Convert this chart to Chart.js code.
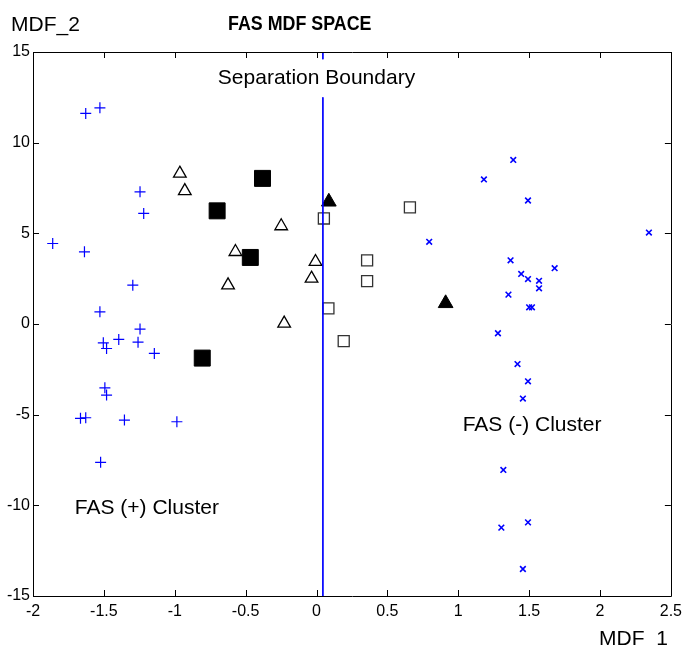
<!DOCTYPE html>
<html>
<head>
<meta charset="utf-8">
<script src="https://cdn.jsdelivr.net/npm/chart.js@4.4.0/dist/chart.umd.min.js"></script>
<style>html,body{margin:0;padding:0;background:#fff}</style>
</head>
<body>
<canvas id="chart" width="688" height="649"></canvas>
<script>
// axis ticks
const xTicks = [-2, -1.5, -1, -0.5, 0, 0.5, 1, 1.5, 2, 2.5];
const yTicks = [-15, -10, -5, 0, 5, 10, 15];

// FAS (+) group, blue plus
const plusX = [-1.628, -1.528, -1.245, -1.219, -1.861, -1.637, -1.296, -1.528, -1.245, -1.395, -1.259,
               -1.504, -1.481, -1.144, -1.493, -1.481, -1.665, -1.628, -1.355, -0.985, -1.523];
const plusY = [11.61, 11.92, 7.29, 6.10, 4.44, 3.98, 2.14, 0.67, -0.28, -0.85, -1.00,
               -1.04, -1.35, -1.62, -3.52, -3.92, -5.20, -5.17, -5.30, -5.39, -7.63];

// FAS (-) group, blue x
const crossX = [1.388, 1.181, 1.492, 2.345, 1.369, 1.680, 1.444, 1.492, 1.570, 1.570, 1.354,
                1.500, 1.520, 1.280, 0.795, 1.418, 1.492, 1.456, 1.318, 1.304, 1.492, 1.456];
const crossY = [9.05, 7.97, 6.81, 5.04, 3.51, 3.08, 2.76, 2.48, 2.38, 1.97, 1.62,
                0.92, 0.92, -0.51, 4.53, -2.21, -3.16, -4.11, -8.05, -11.23, -10.94, -13.51];

// open triangles
const triOpenX = [-0.964, -0.929, -0.249, -0.572, -0.624, -0.007, -0.035, -0.228];
const triOpenY = [8.30, 7.34, 5.40, 3.98, 2.14, 3.43, 2.51, 0.03];

// filled triangles
const triFillX = [0.087, 0.911];
const triFillY = [6.74, 1.14];

// filled squares
const sqFillX = [-0.381, -0.701, -0.467, -0.806];
const sqFillY = [8.03, 6.24, 3.67, -1.88];

// open squares
const sqOpenX = [0.052, 0.659, 0.357, 0.357, 0.084, 0.192];
const sqOpenY = [5.82, 6.43, 3.51, 2.36, 0.86, -0.94];

// separation boundary
const boundaryX = 0.045;
const boundaryTop = [15, 14.6];
const boundaryBottom = [12.5, -15];

const pts = (xs, ys) => xs.map((x, i) => ({x: x, y: ys[i]}));
const FONT = "'Liberation Sans', Arial, Helvetica, sans-serif";

const boxAndText = {
  id: 'boxAndText',
  afterDraw(chart) {
    const {ctx, chartArea: a, scales: {x, y}} = chart;
    ctx.save();
    ctx.strokeStyle = '#000';
    ctx.lineWidth = 1;
    ctx.beginPath();
    ctx.rect(Math.round(a.left) + 0.5, Math.round(a.top) + 0.5, Math.round(a.right - a.left), Math.round(a.bottom - a.top));
    ctx.stroke();

    // inward ticks on all four sides
    const tl = 6;
    ctx.beginPath();
    xTicks.forEach(v => {
      const px = Math.round(x.getPixelForValue(v)) + 0.5;
      ctx.moveTo(px, a.bottom); ctx.lineTo(px, a.bottom - tl);
      ctx.moveTo(px, a.top); ctx.lineTo(px, a.top + tl);
    });
    yTicks.forEach(v => {
      const py = Math.round(y.getPixelForValue(v)) + 0.5;
      ctx.moveTo(a.left, py); ctx.lineTo(a.left + tl, py);
      ctx.moveTo(a.right, py); ctx.lineTo(a.right - tl, py);
    });
    ctx.stroke();

    ctx.fillStyle = '#000';
    ctx.textBaseline = 'alphabetic';
    ctx.textAlign = 'left';

    // title is a narrow bold face
    ctx.save();
    ctx.translate(228, 30);
    ctx.scale(0.85, 1);
    ctx.font = 'bold 21px ' + FONT;
    ctx.fillText('FAS MDF SPACE', 0, 0);
    ctx.restore();

    ctx.font = '21px ' + FONT;
    ctx.fillText('MDF_2', 11, 30.5);
    ctx.fillText('MDF  1', 599, 645);

    ctx.textAlign = 'center';
    ctx.fillText('Separation Boundary', x.getPixelForValue(0), y.getPixelForValue(13.25));
    ctx.textAlign = 'left';
    ctx.fillText('FAS (-) Cluster', x.getPixelForValue(1.031), y.getPixelForValue(-5.89));
    ctx.fillText('FAS (+) Cluster', x.getPixelForValue(-1.705), y.getPixelForValue(-10.48));
    ctx.restore();
  }
};

const tickFont = {family: FONT, size: 16};

new Chart(document.getElementById('chart'), {
  type: 'scatter',
  data: {
    datasets: [
      {data: pts([boundaryX, boundaryX], boundaryTop), showLine: true, borderColor: '#0000ff', borderWidth: 1, pointRadius: 0, order: 0},
      {data: pts([boundaryX, boundaryX], boundaryBottom), showLine: true, borderColor: '#0000ff', borderWidth: 1, pointRadius: 0, order: 0},
      {data: pts(plusX, plusY), pointStyle: 'cross', pointRadius: 5.5, borderColor: '#0000ff', borderWidth: 1.2, order: 1},
      {data: pts(crossX, crossY), pointStyle: 'crossRot', pointRadius: 4, borderColor: '#0000ff', borderWidth: 1.6, order: 1},
      {data: pts(triOpenX, triOpenY), pointStyle: 'triangle', pointRadius: 7.3, borderColor: '#000', backgroundColor: '#fff', borderWidth: 1.3, order: 1},
      {data: pts(triFillX, triFillY), pointStyle: 'triangle', pointRadius: 8.5, borderColor: '#000', backgroundColor: '#000', borderWidth: 1, order: 1},
      {data: pts(sqFillX, sqFillY), pointStyle: 'rect', pointRadius: 11.3, borderColor: '#000', backgroundColor: '#000', borderWidth: 1, order: 1},
      {data: pts(sqOpenX, sqOpenY), pointStyle: 'rect', pointRadius: 7.8, borderColor: '#333', backgroundColor: 'rgba(255,255,255,0)', borderWidth: 1.3, order: 1}
    ]
  },
  options: {
    responsive: false,
    animation: false,
    layout: {padding: {top: 52, right: 13, bottom: 0, left: 0}},
    plugins: {legend: {display: false}, tooltip: {enabled: false}, title: {display: false}},
    scales: {
      x: {
        type: 'linear', min: -2, max: 2.5,
        afterBuildTicks: s => { s.ticks = xTicks.map(v => ({value: v})); },
        afterFit: s => { s.height = 53; },
        grid: {display: false, drawTicks: false},
        border: {display: false},
        ticks: {color: '#000', padding: 6, font: tickFont, maxRotation: 0, autoSkip: false, callback: v => String(v)}
      },
      y: {
        type: 'linear', min: -15, max: 15,
        afterBuildTicks: s => { s.ticks = yTicks.map(v => ({value: v})); },
        afterFit: s => { s.width = 33; },
        grid: {display: false, drawTicks: false},
        border: {display: false},
        ticks: {color: '#000', padding: 3, font: tickFont, autoSkip: false, callback: v => String(v)}
      }
    }
  },
  plugins: [boxAndText]
});
</script>
</body>
</html>
